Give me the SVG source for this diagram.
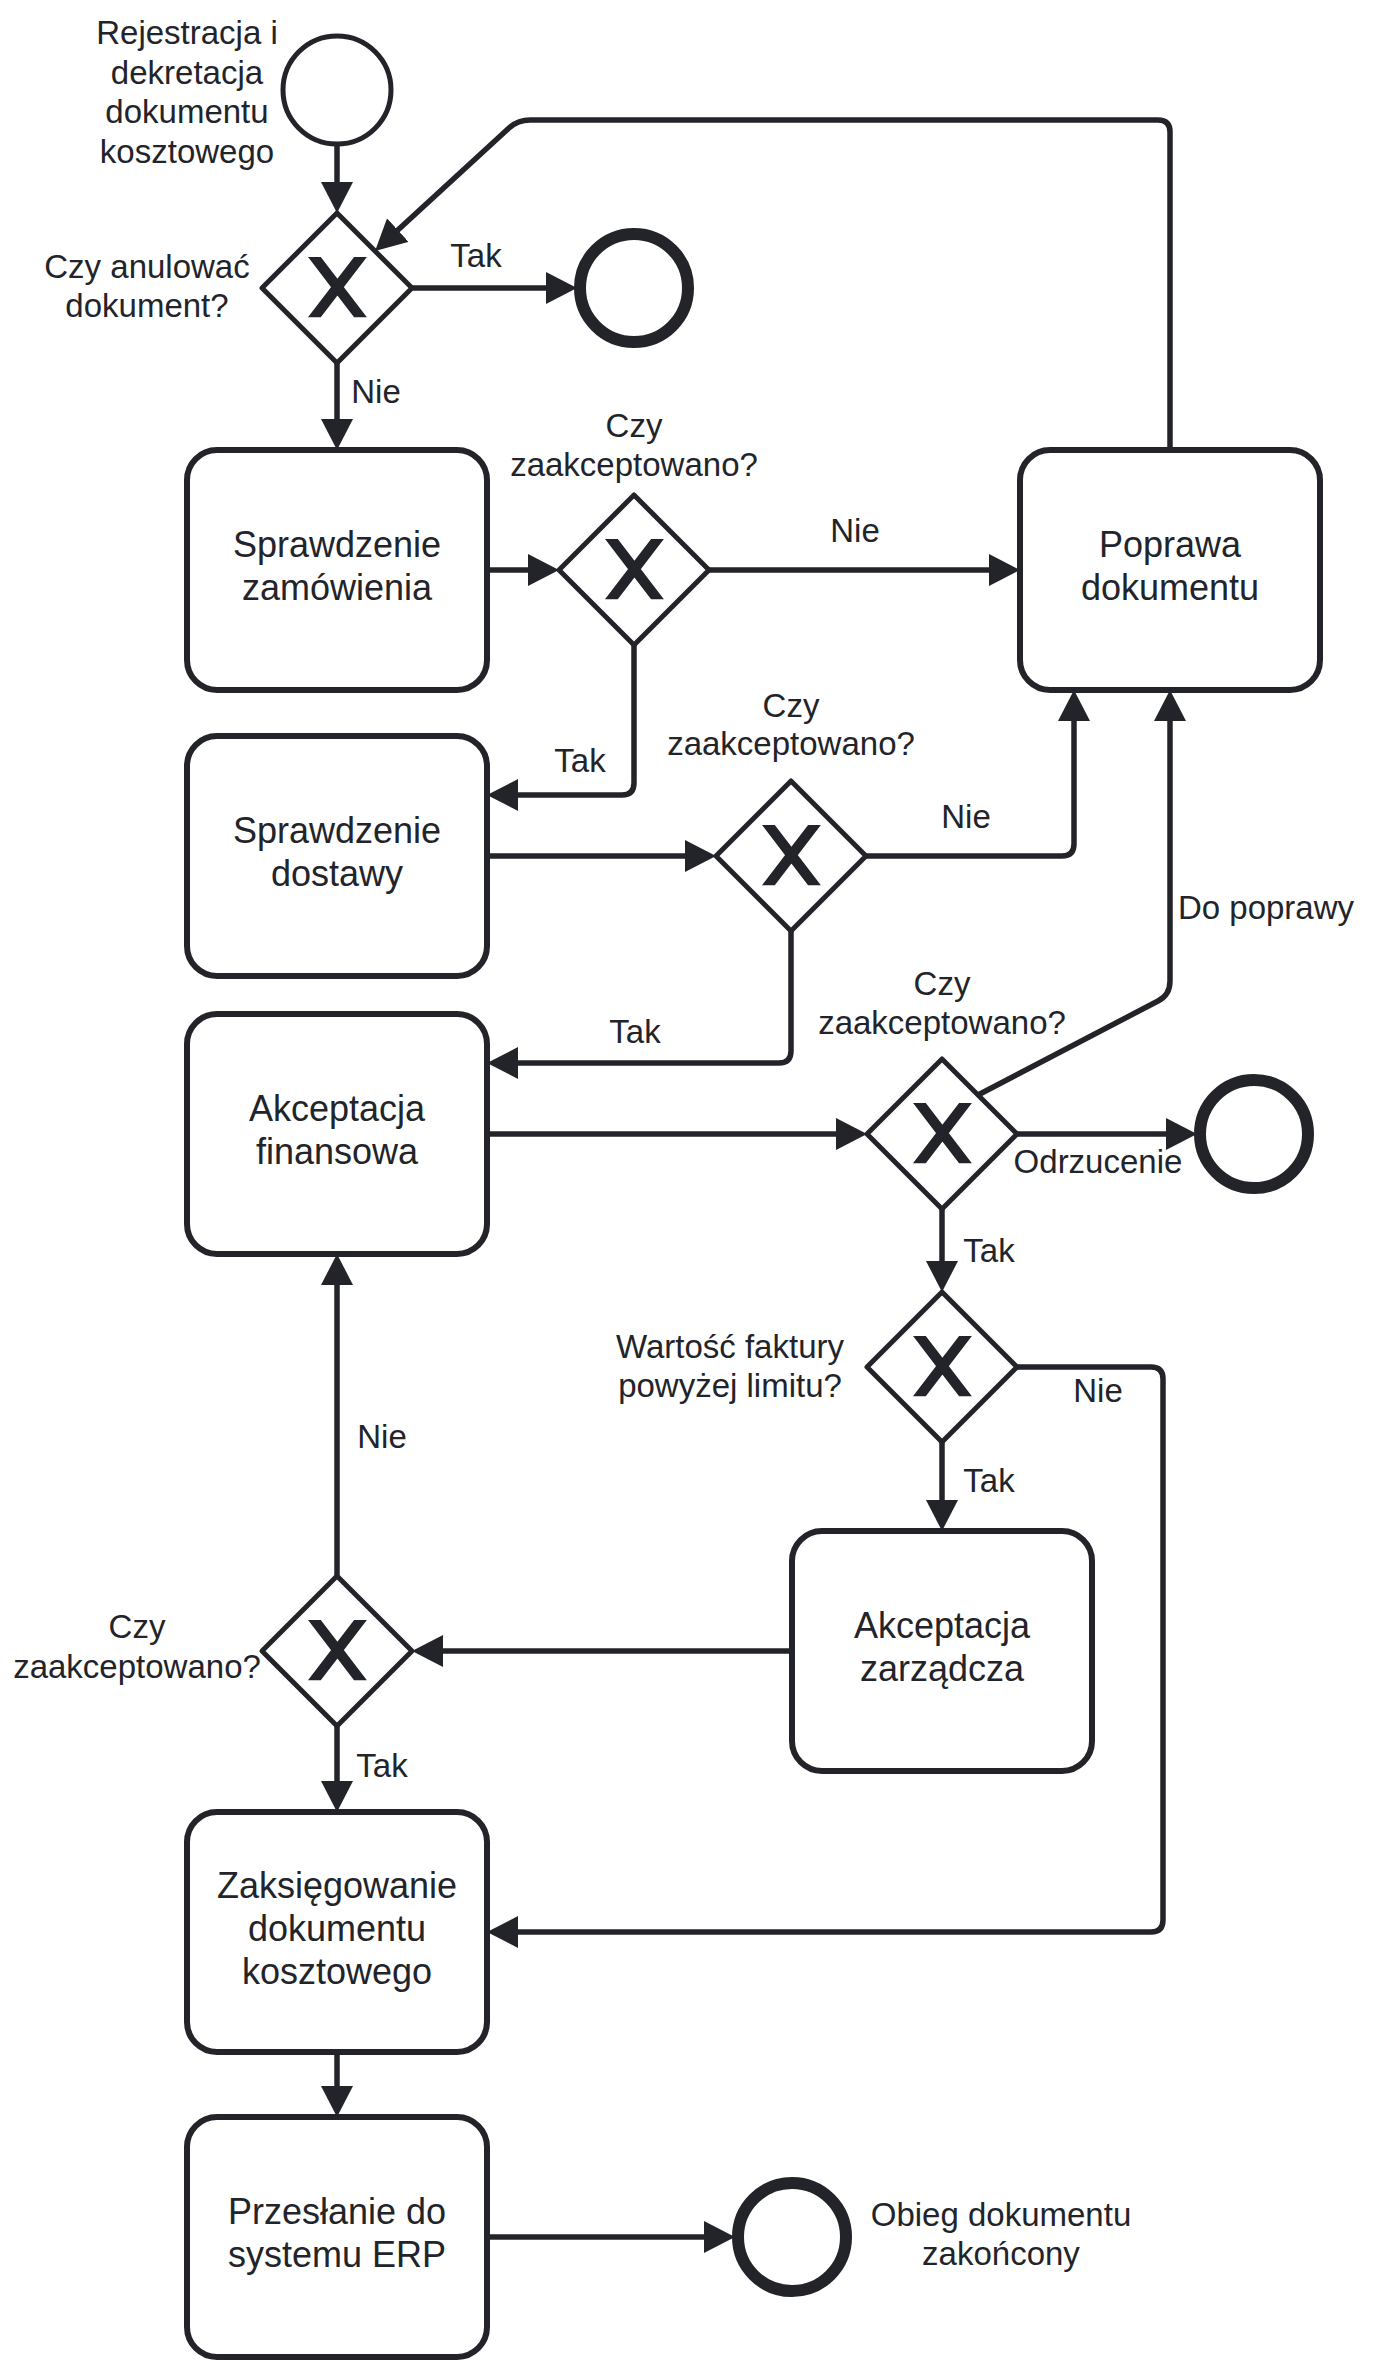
<svg xmlns="http://www.w3.org/2000/svg" width="1374" height="2373" viewBox="0 0 1374 2373">
<style>
.task{fill:#fff;stroke:#22242a;stroke-width:6}
.gw{fill:#fff;stroke:#22242a;stroke-width:5;stroke-linejoin:round}
.xm{fill:#22242a;stroke:#22242a;stroke-width:2}
.start{fill:#fff;stroke:#22242a;stroke-width:5}
.end{fill:#fff;stroke:#22242a;stroke-width:12}
.flow{fill:none;stroke:#22242a;stroke-width:5.5;stroke-linejoin:round;marker-end:url(#arr)}
.t{font-family:"Liberation Sans",Arial,sans-serif;font-size:36px;fill:#22242a;text-anchor:middle}
.l{font-family:"Liberation Sans",Arial,sans-serif;font-size:33px;fill:#22242a;text-anchor:middle}
</style>
<defs>
<marker id="arr" markerUnits="userSpaceOnUse" markerWidth="32" markerHeight="32" viewBox="0 0 32 32" refX="21" refY="16" orient="auto">
<path d="M0,0 L31,16 L0,32 Z" fill="#22242a"/>
</marker>
<path id="gwx" class="xm" d="M-27,-30 L-4.71,-0.86 L-27,28.29 L-16.71,28.29 L0.43,5.89 L17.57,28.29 L27.86,28.29 L5.57,-0.86 L27.86,-30 L17.57,-30 L0.43,-7.61 L-16.71,-30 Z"/>
</defs>
<rect width="1374" height="2373" fill="#fff"/>

<g id="connectors">
<path class="flow" d="M337,145 L337,203"/>
<path class="flow" d="M412,288 L567,288"/>
<path class="flow" d="M337,363 L337,440"/>
<path class="flow" d="M487,570 L549,570"/>
<path class="flow" d="M709,570 L1010,570"/>
<path class="flow" d="M634,645 L634,783 Q634,795 622,795 L497,795"/>
<path class="flow" d="M487,856 L706,856"/>
<path class="flow" d="M866,856 L1062,856 Q1074,856 1074,844 L1074,700"/>
<path class="flow" d="M791,931 L791,1051 Q791,1063 779,1063 L497,1063"/>
<path class="flow" d="M487,1134 L857,1134"/>
<path class="flow" d="M978,1095 L1158,1001 Q1170,995 1170,981 L1170,700"/>
<path class="flow" d="M1017,1134 L1187,1134"/>
<path class="flow" d="M942,1209 L942,1282"/>
<path class="flow" d="M942,1442 L942,1521"/>
<path class="flow" d="M1017,1367 L1151,1367 Q1163,1367 1163,1379 L1163,1920 Q1163,1932 1151,1932 L497,1932"/>
<path class="flow" d="M792,1651 L422,1651"/>
<path class="flow" d="M337,1576 L337,1264"/>
<path class="flow" d="M337,1726 L337,1802"/>
<path class="flow" d="M337,2052 L337,2107"/>
<path class="flow" d="M487,2237 L725,2237"/>
<path class="flow" d="M1170,450 L1170,132 Q1170,120 1158,120 L530,120 Q518,120 509,128 L382.4,244.3"/>
<text class="l" x="476" y="267">Tak</text>
<text class="l" x="376" y="403">Nie</text>
<text class="l" x="855" y="542">Nie</text>
<text class="l" x="580" y="772">Tak</text>
<text class="l" x="966" y="828">Nie</text>
<text class="l" x="635" y="1043">Tak</text>
<text class="l" x="1266" y="919">Do poprawy</text>
<text class="l" x="1098" y="1173">Odrzucenie</text>
<text class="l" x="989" y="1262">Tak</text>
<text class="l" x="1098" y="1402">Nie</text>
<text class="l" x="989" y="1492">Tak</text>
<text class="l" x="382" y="1448">Nie</text>
<text class="l" x="382" y="1777">Tak</text>
</g>

<g id="start">
<circle class="start" cx="337" cy="90" r="54"/>
<text class="l" x="187" y="44">Rejestracja i</text>
<text class="l" x="187" y="83.5">dekretacja</text>
<text class="l" x="187" y="123">dokumentu</text>
<text class="l" x="187" y="162.5">kosztowego</text>
</g>

<g id="gw1">
<polygon class="gw" points="337,213 412,288 337,363 262,288"/>
<use href="#gwx" x="337" y="288"/>
<text class="l" x="147" y="278">Czy anulować</text>
<text class="l" x="147" y="317">dokument?</text>
</g>

<g id="end1"><circle class="end" cx="634" cy="288" r="54"/></g>

<g id="task1">
<rect class="task" x="187" y="450" width="300" height="240" rx="30"/>
<text class="t" x="337" y="557">Sprawdzenie</text>
<text class="t" x="337" y="600">zamówienia</text>
</g>

<g id="gw2">
<polygon class="gw" points="634,495 709,570 634,645 559,570"/>
<use href="#gwx" x="634" y="570"/>
<text class="l" x="634" y="437">Czy</text>
<text class="l" x="634" y="476">zaakceptowano?</text>
</g>

<g id="poprawa">
<rect class="task" x="1020" y="450" width="300" height="240" rx="30"/>
<text class="t" x="1170" y="557">Poprawa</text>
<text class="t" x="1170" y="600">dokumentu</text>
</g>

<g id="task2">
<rect class="task" x="187" y="736" width="300" height="240" rx="30"/>
<text class="t" x="337" y="843">Sprawdzenie</text>
<text class="t" x="337" y="886">dostawy</text>
</g>

<g id="gw3">
<polygon class="gw" points="791,781 866,856 791,931 716,856"/>
<use href="#gwx" x="791" y="856"/>
<text class="l" x="791" y="717">Czy</text>
<text class="l" x="791" y="755">zaakceptowano?</text>
</g>

<g id="task3">
<rect class="task" x="187" y="1014" width="300" height="240" rx="30"/>
<text class="t" x="337" y="1121">Akceptacja</text>
<text class="t" x="337" y="1164">finansowa</text>
</g>

<g id="gw4">
<polygon class="gw" points="942,1059 1017,1134 942,1209 867,1134"/>
<use href="#gwx" x="942" y="1134"/>
<text class="l" x="942" y="995">Czy</text>
<text class="l" x="942" y="1034">zaakceptowano?</text>
</g>

<g id="end2"><circle class="end" cx="1254" cy="1134" r="54"/></g>

<g id="gw5">
<polygon class="gw" points="942,1292 1017,1367 942,1442 867,1367"/>
<use href="#gwx" x="942" y="1367"/>
<text class="l" x="730" y="1358">Wartość faktury</text>
<text class="l" x="730" y="1397">powyżej limitu?</text>
</g>

<g id="task4">
<rect class="task" x="792" y="1531" width="300" height="240" rx="30"/>
<text class="t" x="942" y="1638">Akceptacja</text>
<text class="t" x="942" y="1681">zarządcza</text>
</g>

<g id="gw6">
<polygon class="gw" points="337,1576 412,1651 337,1726 262,1651"/>
<use href="#gwx" x="337" y="1651"/>
<text class="l" x="137" y="1638">Czy</text>
<text class="l" x="137" y="1678">zaakceptowano?</text>
</g>

<g id="task5">
<rect class="task" x="187" y="1812" width="300" height="240" rx="30"/>
<text class="t" x="337" y="1898">Zaksięgowanie</text>
<text class="t" x="337" y="1941">dokumentu</text>
<text class="t" x="337" y="1984">kosztowego</text>
</g>

<g id="task6">
<rect class="task" x="187" y="2117" width="300" height="240" rx="30"/>
<text class="t" x="337" y="2224">Przesłanie do</text>
<text class="t" x="337" y="2267">systemu ERP</text>
</g>

<g id="end3">
<circle class="end" cx="792" cy="2237" r="54"/>
<text class="l" x="1001" y="2226">Obieg dokumentu</text>
<text class="l" x="1001" y="2265">zakońcony</text>
</g>
</svg>
